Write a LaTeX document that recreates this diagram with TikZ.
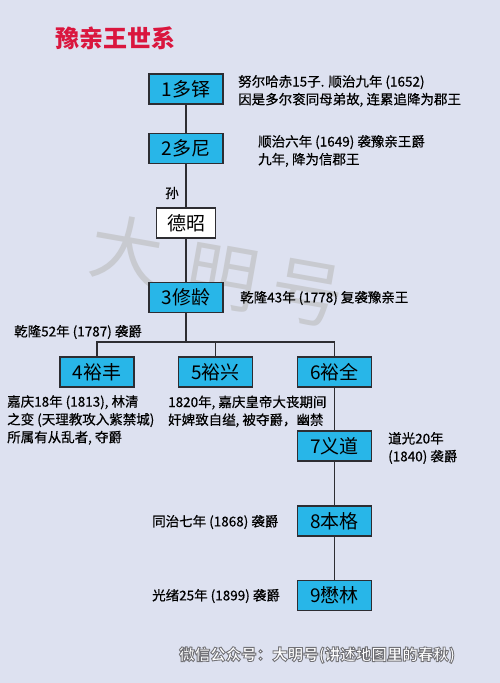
\documentclass[tikz,border=0pt]{standalone}
\usepackage{fontspec}
\setmainfont{Noto Sans CJK SC}
\newfontfamily\notef{Noto Sans CJK SC}[FakeBold=0.5]
\definecolor{bgc}{RGB}{221,225,240}
\definecolor{boxc}{RGB}{40,182,232}
\definecolor{linec}{RGB}{45,45,50}
\definecolor{titlec}{RGB}{218,22,62}
\definecolor{wmc}{RGB}{200,202,208}
\newcommand\outlinedtext[1]{{\color{white}\special{pdf:literal direct 2 Tr 0.9 w 0.45 0.45 0.47 RG}#1\special{pdf:literal direct 0 Tr}}}
\begin{document}
\begin{tikzpicture}[x=1pt,y=-1pt,
 box/.style={draw=linec, line width=1.3pt, fill=boxc, minimum width=74pt, minimum height=30pt, inner sep=0pt, font=\fontsize{19}{19}\selectfont},
 wbox/.style={box, fill=white, minimum width=59pt},
 note/.style={inner sep=0pt, align=left, font=\notef\fontsize{13.5}{17.8}\selectfont, text=black},
 wm/.style={text=wmc, inner sep=0pt, font=\fontsize{72}{72}\selectfont, rotate=-10},
 conn/.style={draw=linec, line width=1.2pt}]
\fill[bgc] (0,0) rectangle (500,683);
\useasboundingbox (0,0) rectangle (500,683);
% watermark
\node[wm] (wm1) at (127,250) {大};
\node[wm] (wm2) at (222,278) {明};
\node[wm] (wm3) at (307,293) {号};
% title
\node[anchor=west, inner sep=0pt, text=titlec, font=\fontsize{24}{24}\selectfont\bfseries] (title) at (55,38) {豫亲王世系};
% boxes
\node[box] (n1) at (186,89) {1多铎};
\node[box] (n2) at (186,148.5) {2多尼};
\node[wbox] (dz) at (186,223) {德昭};
\node[box] (n3) at (186,297.5) {3修龄};
\node[box] (n4) at (97,372) {4裕丰};
\node[box] (n5) at (215.5,372) {5裕兴};
\node[box] (n6) at (334.5,372) {6裕全};
\node[box] (n7) at (334.5,446) {7义道};
\node[box] (n8) at (334.5,521) {8本格};
\node[box] (n9) at (334.5,595.5) {9懋林};
% connectors
\coordinate (j) at (186,342);
\draw[conn] (n1) -- (n2);
\draw[conn] (n2) -- (dz);
\draw[conn] (dz) -- (n3);
\draw[conn] (n3) -- (j);
\draw[conn] (n4.north) |- (j) -| (n6.north);
\draw[conn] (n5.north) -- (n5.north |- j);
\draw[conn] (n6) -- (n7);
\draw[conn] (n7) -- (n8);
\draw[conn] (n8) -- (n9);
% notes
\node[note] (sun) at (172,193) {孙};
\node[note, anchor=west] (t1) at (238,91) {努尔哈赤15子. 顺治九年 (1652)\\因是多尔衮同母弟故, 连累追降为郡王};
\node[note, anchor=west] (t2) at (258,151) {顺治六年 (1649) 袭豫亲王爵\\九年, 降为信郡王};
\node[note, anchor=west] (t3) at (240,298) {乾隆43年 (1778) 复袭豫亲王};
\node[note, anchor=west] (t4a) at (14,332) {乾隆52年 (1787) 袭爵};
\node[note, anchor=west] (t4) at (7,420) {嘉庆18年 (1813), 林清\\之变 (天理教攻入紫禁城)\\所属有从乱者, 夺爵};
\node[note, anchor=west] (t5) at (168,411.5) {1820年, 嘉庆皇帝大丧期间\\奸婢致自缢, 被夺爵，幽禁};
\node[note, anchor=west] (t7) at (388,448) {道光20年\\(1840) 袭爵};
\node[note, anchor=west] (t8) at (152,522) {同治七年 (1868) 袭爵};
\node[note, anchor=west] (t9) at (152,596) {光绪25年 (1899) 袭爵};
% footer
\node[anchor=west, inner sep=0pt, font=\fontsize{15.5}{15.5}\selectfont\bfseries] (foot) at (179,655) {\outlinedtext{微信公众号：大明号(讲述地图里的春秋)}};
\end{tikzpicture}
\end{document}
